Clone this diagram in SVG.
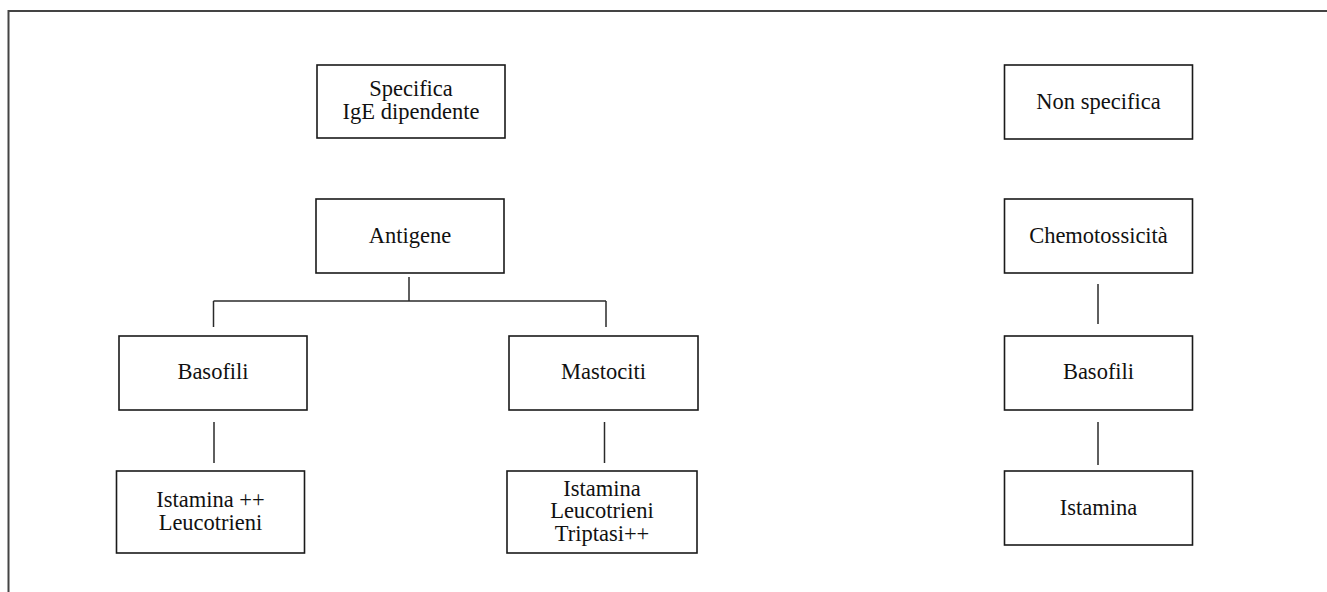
<svg xmlns="http://www.w3.org/2000/svg" width="1327" height="592" viewBox="0 0 1327 592">
<style>
  .box { fill: #ffffff; stroke: #1a1a1a; stroke-width: 1.6; }
  .lbl { font-family: "Liberation Serif", "Times New Roman", serif; font-size: 22.5px; fill: #111111; text-anchor: middle; }
  .conn { stroke: #2a2a2a; stroke-width: 1.5; fill: none; }
  .frame { stroke: #444444; stroke-width: 2; fill: none; }
</style>
<rect width="1327" height="592" fill="#ffffff"/>
<path class="frame" d="M8.5 600 V11 H1340"/>

<g id="connectors">
  <line class="conn" x1="409" y1="277" x2="409" y2="301"/>
  <line class="conn" x1="213.5" y1="301" x2="606" y2="301"/>
  <line class="conn" x1="213.5" y1="301" x2="213.5" y2="327"/>
  <line class="conn" x1="606" y1="301" x2="606" y2="327"/>
  <line class="conn" x1="214" y1="422" x2="214" y2="463"/>
  <line class="conn" x1="604.5" y1="422" x2="604.5" y2="463"/>
  <line class="conn" x1="1098" y1="284" x2="1098" y2="324"/>
  <line class="conn" x1="1098" y1="422" x2="1098" y2="465"/>
</g>

<g id="specifica">
  <rect class="box" x="317" y="65" width="188" height="73"/>
  <text class="lbl" x="411" y="96">Specifica</text>
  <text class="lbl" x="411" y="119">IgE dipendente</text>
</g>

<g id="antigene">
  <rect class="box" x="316" y="199" width="188" height="74"/>
  <text class="lbl" x="410" y="243">Antigene</text>
</g>

<g id="basofili-left">
  <rect class="box" x="119" y="336" width="188" height="74"/>
  <text class="lbl" x="213" y="379">Basofili</text>
</g>

<g id="mastociti">
  <rect class="box" x="509" y="336" width="189" height="74"/>
  <text class="lbl" x="603.5" y="379">Mastociti</text>
</g>

<g id="istamina-leucotrieni">
  <rect class="box" x="116.5" y="471" width="188" height="82"/>
  <text class="lbl" x="210.5" y="507">Istamina ++</text>
  <text class="lbl" x="210.5" y="529.5">Leucotrieni</text>
</g>

<g id="istamina-leucotrieni-triptasi">
  <rect class="box" x="507" y="471" width="190" height="82"/>
  <text class="lbl" x="602" y="495.5">Istamina</text>
  <text class="lbl" x="602" y="518">Leucotrieni</text>
  <text class="lbl" x="602" y="540.5">Triptasi++</text>
</g>

<g id="non-specifica">
  <rect class="box" x="1004.5" y="65" width="188" height="74"/>
  <text class="lbl" x="1098.5" y="109">Non specifica</text>
</g>

<g id="chemotossicita">
  <rect class="box" x="1004.5" y="199" width="188" height="74"/>
  <text class="lbl" x="1098.5" y="243">Chemotossicità</text>
</g>

<g id="basofili-right">
  <rect class="box" x="1004.5" y="336" width="188" height="74"/>
  <text class="lbl" x="1098.5" y="379">Basofili</text>
</g>

<g id="istamina">
  <rect class="box" x="1004.5" y="471" width="188" height="74"/>
  <text class="lbl" x="1098.5" y="515">Istamina</text>
</g>
</svg>
